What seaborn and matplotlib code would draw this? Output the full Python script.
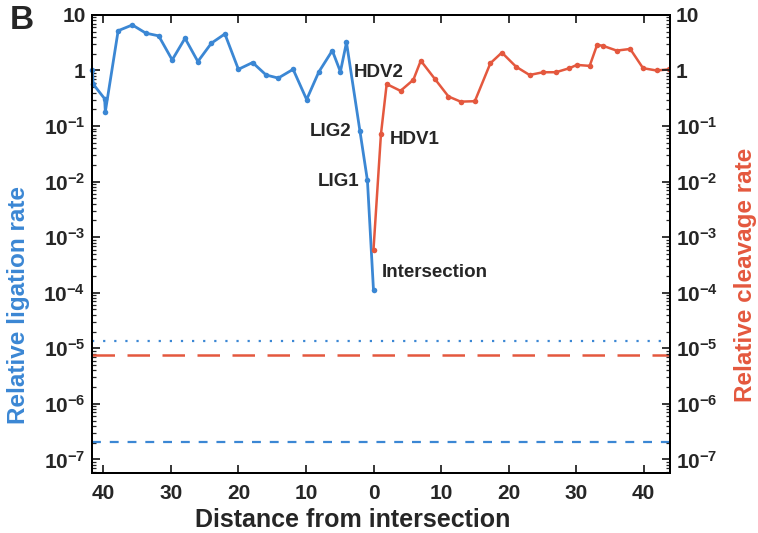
import numpy as np
import pandas as pd
import seaborn as sns
import matplotlib
matplotlib.use("Agg")
import matplotlib.pyplot as plt
from matplotlib.ticker import LogLocator, NullFormatter, FixedLocator

# ---------------- data ----------------
lig_dist = [41.6, 41.5, 39.8, 39.7, 37.8, 35.7, 33.7, 31.8, 29.8, 27.9, 26.0, 24.0, 22.0,
            20.0, 17.9, 15.9, 14.1, 11.9, 9.9, 8.1, 6.1, 4.9, 4.0, 2.0, 0.9, 0.0]
lig_rate = [1.03, 0.57, 0.31, 0.18, 5.2, 6.6, 4.7, 4.2, 1.55, 3.8, 1.45, 3.1, 4.55,
            1.05, 1.39, 0.83, 0.73, 1.05, 0.30, 0.94, 2.28, 0.95, 3.2, 0.080, 0.0105, 1.1e-4]

clv_dist = [0.0, 1.1, 1.95, 4.0, 5.9, 7.0, 9.1, 11.1, 12.9, 15.0, 17.3, 19.0, 21.1, 23.1,
            25.1, 27.0, 29.0, 30.1, 32.0, 33.1, 34.0, 36.0, 38.0, 39.9, 41.9, 43.8]
clv_rate = [6.0e-4, 0.071, 0.57, 0.43, 0.68, 1.5, 0.70, 0.34, 0.275, 0.28, 1.35, 2.1, 1.17,
            0.83, 0.93, 0.93, 1.1, 1.26, 1.21, 2.9, 2.77, 2.28, 2.44, 1.1, 1.0, 1.05]

lig_bg_dotted = 1.33e-5
clv_bg_dashed = 7.5e-6
lig_bg_dashed = 2.05e-7

xtick_pos = [-40, -30, -20, -10, 0, 10, 20, 30, 40]
xtick_labels = ["40", "30", "20", "10", "0", "10", "20", "30", "40"]
ytick_pos = [1e-7, 1e-6, 1e-5, 1e-4, 1e-3, 1e-2, 1e-1, 1, 10]
ytick_labels = [r"$\mathbf{10^{-7}}$", r"$\mathbf{10^{-6}}$", r"$\mathbf{10^{-5}}$",
                r"$\mathbf{10^{-4}}$", r"$\mathbf{10^{-3}}$", r"$\mathbf{10^{-2}}$",
                r"$\mathbf{10^{-1}}$", "1", "10"]

BLUE = "#3b87d4"
RED = "#e4583e"

# ---------------- style ----------------
sns.set_style("ticks")
plt.rcParams["font.family"] = ["Liberation Sans", "DejaVu Sans"]
plt.rcParams["font.weight"] = "bold"
plt.rcParams["mathtext.fontset"] = "custom"
plt.rcParams["mathtext.rm"] = "Liberation Sans"
plt.rcParams["mathtext.bf"] = "Liberation Sans:bold"
plt.rcParams["mathtext.default"] = "bf"

fig = plt.figure(figsize=(7.58, 5.33), dpi=100)
ax = fig.add_axes([0.122, 0.113, 0.762, 0.859])

lig_df = pd.DataFrame({"x": [-d for d in lig_dist], "y": lig_rate})
clv_df = pd.DataFrame({"x": clv_dist, "y": clv_rate})

ax.set_yscale("log")
sns.lineplot(data=lig_df, x="x", y="y", ax=ax, color=BLUE, lw=2.0, marker="o",
             markersize=4, markeredgewidth=0, sort=False, estimator=None, clip_on=False)
sns.lineplot(data=clv_df, x="x", y="y", ax=ax, color=RED, lw=1.8, marker="o",
             markersize=4, markeredgewidth=0, sort=False, estimator=None)

ax.axhline(lig_bg_dotted, color=BLUE, lw=1.6, ls=(0, (1, 4)))
ax.axhline(clv_bg_dashed, color=RED, lw=1.8, ls=(0, (9, 5)))
ax.axhline(lig_bg_dashed, color=BLUE, lw=1.6, ls=(0, (4, 4)))

ax.set_xlim(-41.6, 43.9)
ax.set_ylim(10 ** -7.24, 10)

ax.xaxis.set_major_locator(FixedLocator(xtick_pos))
ax.set_xticklabels(xtick_labels, fontsize=15, fontweight="bold")
ax.set_yticks(ytick_pos)
ax.set_yticklabels(ytick_labels, fontsize=15)
ax.yaxis.set_minor_locator(LogLocator(base=10, subs=np.arange(2, 10), numticks=20))
ax.yaxis.set_minor_formatter(NullFormatter())
ax.tick_params(axis="both", which="major", direction="in", length=6, width=1.3,
               top=True, right=False, pad=8)
ax.tick_params(axis="x", which="major", pad=8)
ax.tick_params(axis="y", which="major", pad=5)
ax.tick_params(axis="y", which="minor", direction="in", length=3, width=0.9)

ax2 = ax.twinx()
ax2.set_yscale("log")
ax2.set_ylim(ax.get_ylim())
ax2.set_yticks(ytick_pos)
ax2.set_yticklabels(ytick_labels, fontsize=15)
ax2.yaxis.set_minor_locator(LogLocator(base=10, subs=np.arange(2, 10), numticks=20))
ax2.yaxis.set_minor_formatter(NullFormatter())
ax2.tick_params(axis="y", which="major", direction="in", length=6, width=1.3, pad=4)
ax2.tick_params(axis="y", which="minor", direction="in", length=3, width=0.9)

for a in (ax, ax2):
    for s in a.spines.values():
        s.set_linewidth(1.4)
        s.set_color("black")
        s.set_visible(True)

ax.set_xlabel("Distance from intersection", fontsize=18, fontweight="bold")
ax.xaxis.set_label_coords(0.451, -0.078)
ax.set_ylabel("Relative ligation rate", fontsize=17.5, fontweight="bold", color=BLUE)
ax.yaxis.set_label_coords(-0.108, 0.367)
ax2.set_ylabel("Relative cleavage rate", fontsize=17.5, fontweight="bold", color=RED,
               rotation=90)
ax2.yaxis.set_label_coords(1.111, 0.432)

# annotations anchored to the data points
ann_kw = dict(textcoords="offset points", fontsize=13.5, fontweight="bold", va="center")
ax.annotate("LIG2", xy=(-lig_dist[-3], lig_rate[-3]), xytext=(-6, 0), ha="right", **ann_kw)
ax.annotate("LIG1", xy=(-lig_dist[-2], lig_rate[-2]), xytext=(-6, -1), ha="right", **ann_kw)
ax.annotate("Intersection", xy=(-lig_dist[-1], lig_rate[-1]), xytext=(6, 13), ha="left", **ann_kw)
ax.annotate("HDV1", xy=(clv_dist[1], clv_rate[1]), xytext=(6, -4), ha="left", **ann_kw)
ax.annotate("HDV2", xy=(clv_dist[2], clv_rate[2]), xytext=(-6, 8), ha="center", **ann_kw)

fig.text(0.013, 0.962, "B", fontsize=24, fontweight="bold", va="center", ha="left")

fig.savefig("out.png", dpi=100)
